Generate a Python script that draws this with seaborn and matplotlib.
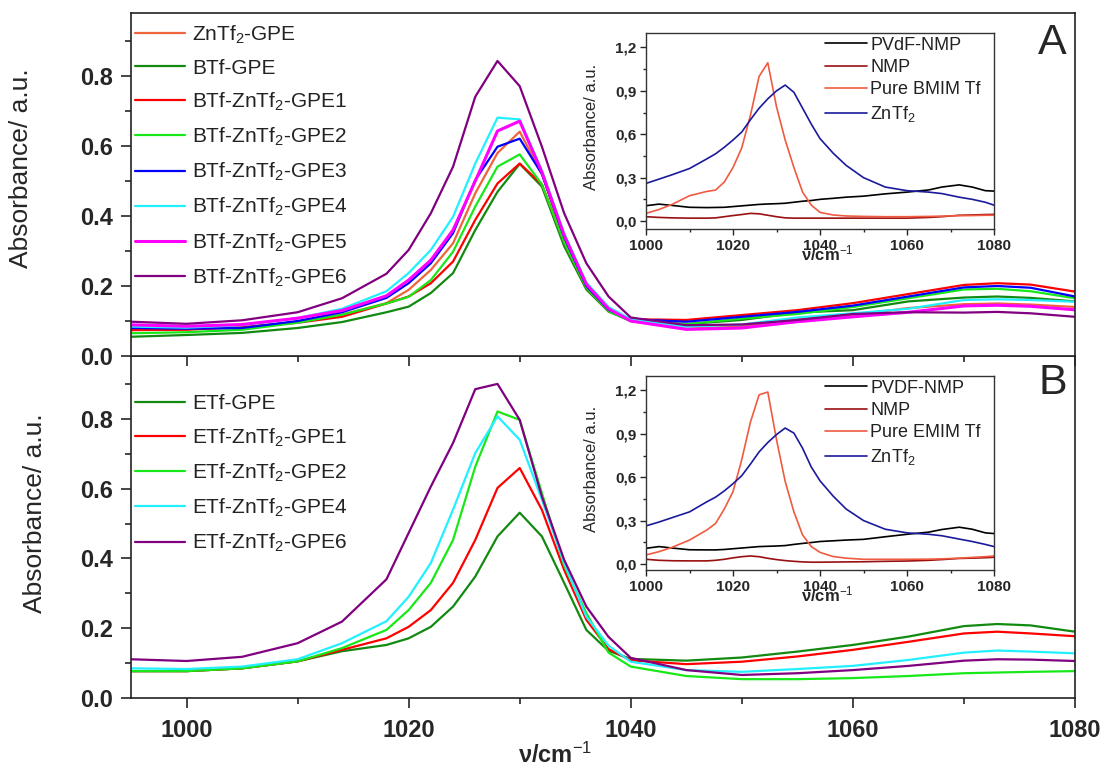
import numpy as np
import pandas as pd
import matplotlib
matplotlib.use("Agg")
import matplotlib.pyplot as plt
import seaborn as sns
from matplotlib.ticker import MultipleLocator, FuncFormatter

# ---------------- data ----------------
wn = [995, 1000, 1005, 1010, 1014, 1018, 1020, 1022, 1024, 1026, 1028, 1030, 1032,
      1034, 1036, 1038, 1040, 1045, 1050, 1055, 1060, 1065, 1070, 1073, 1076, 1080]

# Panel A (BMIM Tf based)
a_labels = ["ZnTf$_2$-GPE", "BTf-GPE", "BTf-ZnTf$_2$-GPE1", "BTf-ZnTf$_2$-GPE2",
            "BTf-ZnTf$_2$-GPE3", "BTf-ZnTf$_2$-GPE4", "BTf-ZnTf$_2$-GPE5", "BTf-ZnTf$_2$-GPE6"]
a_zntf2_gpe = [0.074, 0.077, 0.083, 0.097, 0.118, 0.151, 0.189, 0.246, 0.322, 0.465, 0.580, 0.641, 0.520,
               0.335, 0.200, 0.130, 0.100, 0.078, 0.085, 0.105, 0.117, 0.137, 0.148, 0.150, 0.147, 0.140]
a_btf_gpe = [0.055, 0.060, 0.066, 0.080, 0.097, 0.125, 0.141, 0.180, 0.237, 0.360, 0.469, 0.549, 0.484,
             0.314, 0.190, 0.127, 0.100, 0.091, 0.103, 0.124, 0.131, 0.156, 0.167, 0.170, 0.166, 0.156]
a_gpe1 = [0.074, 0.075, 0.082, 0.095, 0.112, 0.150, 0.170, 0.208, 0.270, 0.389, 0.493, 0.550, 0.490,
          0.325, 0.195, 0.128, 0.105, 0.103, 0.117, 0.131, 0.151, 0.177, 0.203, 0.208, 0.204, 0.184]
a_gpe2 = [0.065, 0.068, 0.075, 0.095, 0.118, 0.150, 0.169, 0.217, 0.298, 0.427, 0.541, 0.576, 0.490,
          0.325, 0.195, 0.128, 0.100, 0.091, 0.107, 0.120, 0.140, 0.165, 0.190, 0.192, 0.185, 0.165]
a_gpe3 = [0.080, 0.078, 0.080, 0.100, 0.125, 0.166, 0.208, 0.265, 0.351, 0.503, 0.598, 0.621, 0.520,
          0.340, 0.200, 0.132, 0.105, 0.098, 0.112, 0.126, 0.144, 0.170, 0.196, 0.200, 0.195, 0.170]
a_gpe4 = [0.084, 0.081, 0.088, 0.108, 0.135, 0.185, 0.237, 0.303, 0.398, 0.550, 0.681, 0.676, 0.530,
          0.351, 0.210, 0.140, 0.105, 0.084, 0.090, 0.110, 0.122, 0.135, 0.160, 0.162, 0.160, 0.155]
a_gpe5 = [0.089, 0.085, 0.090, 0.108, 0.130, 0.172, 0.217, 0.274, 0.360, 0.500, 0.643, 0.671, 0.525,
          0.345, 0.205, 0.135, 0.100, 0.076, 0.080, 0.098, 0.112, 0.125, 0.143, 0.145, 0.142, 0.132]
a_gpe6 = [0.098, 0.092, 0.102, 0.125, 0.165, 0.235, 0.303, 0.408, 0.541, 0.741, 0.843, 0.771, 0.598,
          0.408, 0.265, 0.170, 0.110, 0.088, 0.090, 0.103, 0.120, 0.125, 0.124, 0.126, 0.122, 0.112]
a_colors = ["#F0643C", "#128A12", "#FF0000", "#18E818", "#0000FF", "#22F0FF", "#FF00FF", "#800080"]

# Panel B (EMIM Tf based)
b_labels = ["ETf-GPE", "ETf-ZnTf$_2$-GPE1", "ETf-ZnTf$_2$-GPE2", "ETf-ZnTf$_2$-GPE4", "ETf-ZnTf$_2$-GPE6"]
b_etf_gpe = [0.077, 0.077, 0.085, 0.105, 0.134, 0.152, 0.171, 0.204, 0.262, 0.348, 0.463, 0.531, 0.463,
             0.330, 0.195, 0.135, 0.112, 0.107, 0.116, 0.133, 0.152, 0.176, 0.206, 0.212, 0.208, 0.190]
b_gpe1 = [0.077, 0.077, 0.085, 0.105, 0.138, 0.171, 0.204, 0.252, 0.330, 0.453, 0.602, 0.659, 0.539,
          0.367, 0.224, 0.140, 0.108, 0.097, 0.104, 0.119, 0.138, 0.161, 0.185, 0.190, 0.185, 0.177]
b_gpe2 = [0.077, 0.077, 0.085, 0.105, 0.143, 0.195, 0.252, 0.330, 0.453, 0.663, 0.821, 0.797, 0.587,
          0.380, 0.243, 0.130, 0.090, 0.063, 0.054, 0.054, 0.057, 0.063, 0.071, 0.073, 0.075, 0.077]
b_gpe4 = [0.085, 0.083, 0.090, 0.111, 0.157, 0.220, 0.290, 0.387, 0.540, 0.702, 0.807, 0.740, 0.568,
          0.387, 0.233, 0.150, 0.104, 0.080, 0.075, 0.083, 0.092, 0.109, 0.130, 0.136, 0.133, 0.128]
b_gpe6 = [0.111, 0.106, 0.118, 0.157, 0.219, 0.340, 0.473, 0.606, 0.731, 0.885, 0.900, 0.797, 0.577,
          0.396, 0.262, 0.175, 0.115, 0.080, 0.066, 0.071, 0.080, 0.092, 0.107, 0.111, 0.110, 0.106]
b_colors = ["#128A12", "#FF0000", "#18E818", "#22F0FF", "#800080"]

# Insets
inset_wn = [1000, 1003, 1006, 1010, 1014, 1016, 1018, 1020, 1022, 1024, 1026, 1028, 1030, 1032, 1034,
            1036, 1038, 1040, 1043, 1046, 1050, 1055, 1060, 1065, 1068, 1072, 1075, 1078, 1080]
ia_labels = ["PVdF-NMP", "NMP", "Pure BMIM Tf", "ZnTf$_2$"]
ia_pvdf = [0.106, 0.117, 0.108, 0.095, 0.093, 0.094, 0.095, 0.100, 0.105, 0.110, 0.115, 0.118, 0.120, 0.123,
           0.130, 0.137, 0.142, 0.150, 0.157, 0.165, 0.172, 0.188, 0.200, 0.215, 0.235, 0.250, 0.235, 0.210, 0.207]
ia_nmp = [0.030, 0.025, 0.022, 0.020, 0.020, 0.022, 0.030, 0.038, 0.045, 0.053, 0.050, 0.040, 0.030, 0.022,
          0.020, 0.020, 0.020, 0.020, 0.020, 0.020, 0.020, 0.020, 0.020, 0.025, 0.030, 0.040, 0.042, 0.045, 0.046]
ia_bmim = [0.053, 0.080, 0.115, 0.175, 0.205, 0.214, 0.270, 0.370, 0.505, 0.730, 1.000, 1.094, 0.790, 0.560,
           0.370, 0.200, 0.110, 0.060, 0.042, 0.035, 0.032, 0.030, 0.030, 0.032, 0.034, 0.037, 0.038, 0.040, 0.040]
ia_zntf2 = [0.260, 0.290, 0.320, 0.363, 0.430, 0.465, 0.510, 0.560, 0.615, 0.700, 0.780, 0.845, 0.900, 0.940,
            0.890, 0.780, 0.670, 0.570, 0.470, 0.385, 0.300, 0.235, 0.210, 0.200, 0.190, 0.165, 0.150, 0.130, 0.110]

ib_labels = ["PVDF-NMP", "NMP", "Pure EMIM Tf", "ZnTf$_2$"]
ib_pvdf = [0.108, 0.120, 0.110, 0.098, 0.097, 0.097, 0.100, 0.105, 0.110, 0.115, 0.120, 0.122, 0.124, 0.127,
           0.135, 0.142, 0.148, 0.155, 0.160, 0.165, 0.170, 0.188, 0.205, 0.220, 0.238, 0.254, 0.240, 0.215, 0.210]
ib_nmp = [0.032, 0.025, 0.022, 0.021, 0.021, 0.025, 0.032, 0.042, 0.050, 0.055, 0.050, 0.039, 0.030, 0.023,
          0.018, 0.014, 0.012, 0.012, 0.013, 0.014, 0.015, 0.018, 0.020, 0.025, 0.030, 0.038, 0.040, 0.043, 0.046]
ib_emim = [0.062, 0.085, 0.115, 0.165, 0.235, 0.280, 0.380, 0.500, 0.720, 0.980, 1.170, 1.189, 0.860, 0.570,
           0.360, 0.200, 0.120, 0.080, 0.051, 0.040, 0.032, 0.032, 0.032, 0.033, 0.035, 0.040, 0.045, 0.050, 0.055]
ib_zntf2 = [0.263, 0.290, 0.320, 0.360, 0.430, 0.462, 0.505, 0.555, 0.610, 0.690, 0.775, 0.840, 0.895, 0.940,
            0.905, 0.800, 0.670, 0.575, 0.470, 0.380, 0.300, 0.240, 0.215, 0.205, 0.195, 0.172, 0.155, 0.135, 0.120]
inset_colors = ["#000000", "#9A1010", "#F05A40", "#1A1A9C"]

# ---------------- style ----------------
sns.set_style("ticks")
plt.rcParams["font.family"] = ["Liberation Sans", "DejaVu Sans"]
plt.rcParams["mathtext.fontset"] = "custom"
plt.rcParams["mathtext.rm"] = "Liberation Sans"
plt.rcParams["mathtext.it"] = "Liberation Sans:italic"
plt.rcParams["mathtext.bf"] = "Liberation Sans:bold"
plt.rcParams["axes.linewidth"] = 1.2

W, H = 1107, 769
fig = plt.figure(figsize=(W / 100, H / 100), dpi=100)
fig.patch.set_facecolor("white")

def fx(px):
    return px / W

def fy(py):
    return 1 - py / H

ax1 = fig.add_axes([fx(131), fy(356), fx(1075) - fx(131), fy(13) - fy(356)])
ax2 = fig.add_axes([fx(131), fy(698), fx(1075) - fx(131), fy(356) - fy(698)])
ax1.set_zorder(3)


def draw_series(ax, xs, series, labels, colors, lws):
    for vals, lab, col, lw in zip(series, labels, colors, lws):
        df = pd.DataFrame({"x": xs, "y": vals})
        sns.lineplot(data=df, x="x", y="y", ax=ax, color=col, lw=lw, label=lab,
                     estimator=None, sort=False)


def style_main(ax, show_xlabels):
    ax.set_xlim(995, 1080)
    ax.set_ylim(0, 0.98)
    ax.xaxis.set_major_locator(MultipleLocator(20))
    ax.xaxis.set_minor_locator(MultipleLocator(10))
    ax.yaxis.set_major_locator(MultipleLocator(0.2))
    ax.yaxis.set_minor_locator(MultipleLocator(0.1))
    ax.yaxis.set_major_formatter(FuncFormatter(lambda v, p: f"{v:.1f}"))
    ax.tick_params(which="major", direction="out", length=7, width=1.2, labelsize=17, pad=6)
    ax.tick_params(which="minor", direction="out", length=4.5, width=1.2)
    ax.tick_params(axis="x", which="major", pad=8)
    ax.tick_params(top=False, right=False)
    for lab in ax.get_xticklabels() + ax.get_yticklabels():
        lab.set_fontweight("bold")
    if not show_xlabels:
        ax.tick_params(axis="x", labelbottom=False)
    for s in ax.spines.values():
        s.set_visible(True)
        s.set_linewidth(1.2)
        s.set_color("#222222")
    ax.set_xlabel("")


# Panel A
draw_series(ax1, wn, [a_zntf2_gpe, a_btf_gpe, a_gpe1, a_gpe2, a_gpe3, a_gpe4, a_gpe5, a_gpe6],
            a_labels, a_colors, [1.6, 1.6, 1.6, 1.6, 1.6, 1.6, 2.2, 1.6])
style_main(ax1, False)
ax1.set_ylabel("Absorbance/ a.u.", fontsize=19)
ax1.yaxis.set_label_coords(-0.104, 0.548)
leg1 = ax1.legend(loc="upper left", bbox_to_anchor=(0.004, 0.97), frameon=False, fontsize=15,
                  handlelength=2.4, handletextpad=0.35, labelspacing=0.62, borderaxespad=0, borderpad=0)
for t in leg1.get_texts():
    t.set_color("#222222")
ax1.text(0.976, 0.912, "A", transform=ax1.transAxes, fontsize=31, ha="center", va="center")

# Panel B
draw_series(ax2, wn, [b_etf_gpe, b_gpe1, b_gpe2, b_gpe4, b_gpe6],
            b_labels, b_colors, [1.6] * 5)
style_main(ax2, True)
ax2.set_ylabel("Absorbance/ a.u.", fontsize=19)
ax2.yaxis.set_label_coords(-0.089, 0.541)
ax2.set_xlabel("ν/cm$^{-1}$", fontsize=17, fontweight="bold")
ax2.xaxis.set_label_coords(0.449, -0.13)
leg2 = ax2.legend(loc="upper left", bbox_to_anchor=(0.004, 0.888), frameon=False, fontsize=15,
                  handlelength=2.4, handletextpad=0.35, labelspacing=0.62, borderaxespad=0, borderpad=0)
for t in leg2.get_texts():
    t.set_color("#222222")
ax2.text(0.976, 0.92, "B", transform=ax2.transAxes, fontsize=31, ha="center", va="center")


def make_inset(top_px, bot_px, ylim, series, labels):
    ax = fig.add_axes([fx(646), fy(bot_px), fx(994) - fx(646), fy(top_px) - fy(bot_px)])
    ax.set_zorder(5)
    draw_series(ax, inset_wn, series, labels, inset_colors, [1.2] * 4)
    ax.set_xlim(1000, 1080)
    ax.set_ylim(*ylim)
    ax.xaxis.set_major_locator(MultipleLocator(20))
    ax.xaxis.set_minor_locator(MultipleLocator(10))
    ax.yaxis.set_major_locator(MultipleLocator(0.3))
    ax.yaxis.set_minor_locator(MultipleLocator(0.15))
    ax.yaxis.set_major_formatter(FuncFormatter(lambda v, p: f"{v:.1f}".replace(".", ",")))
    ax.tick_params(which="major", direction="out", length=4, width=1.0, labelsize=11, pad=3)
    ax.tick_params(which="minor", direction="out", length=2.5, width=1.0)
    ax.tick_params(top=False, right=False)
    for lab in ax.get_xticklabels() + ax.get_yticklabels():
        lab.set_fontweight("bold")
    for s in ax.spines.values():
        s.set_visible(True)
        s.set_linewidth(1.0)
        s.set_color("#333333")
    ax.set_xlabel("")
    ax.set_ylabel("Absorbance/ a.u.", fontsize=12)
    ax.yaxis.set_label_coords(-0.135, 0.52)
    ax.text(0.52, -0.125, "ν/cm$^{-1}$", transform=ax.transAxes, fontsize=12, fontweight="bold",
            ha="center", va="center")
    leg = ax.legend(loc="upper left", bbox_to_anchor=(0.505, 1.0), frameon=False, fontsize=13,
                    handlelength=2.3, handletextpad=0.2, labelspacing=0.3, borderaxespad=0, borderpad=0.2)
    for t in leg.get_texts():
        t.set_color("#222222")
    return ax


make_inset(33, 229, (-0.055, 1.30), [ia_pvdf, ia_nmp, ia_bmim, ia_zntf2], ia_labels)
make_inset(376, 570, (-0.042, 1.30), [ib_pvdf, ib_nmp, ib_emim, ib_zntf2], ib_labels)

fig.savefig("out.png", dpi=100, facecolor="white")
